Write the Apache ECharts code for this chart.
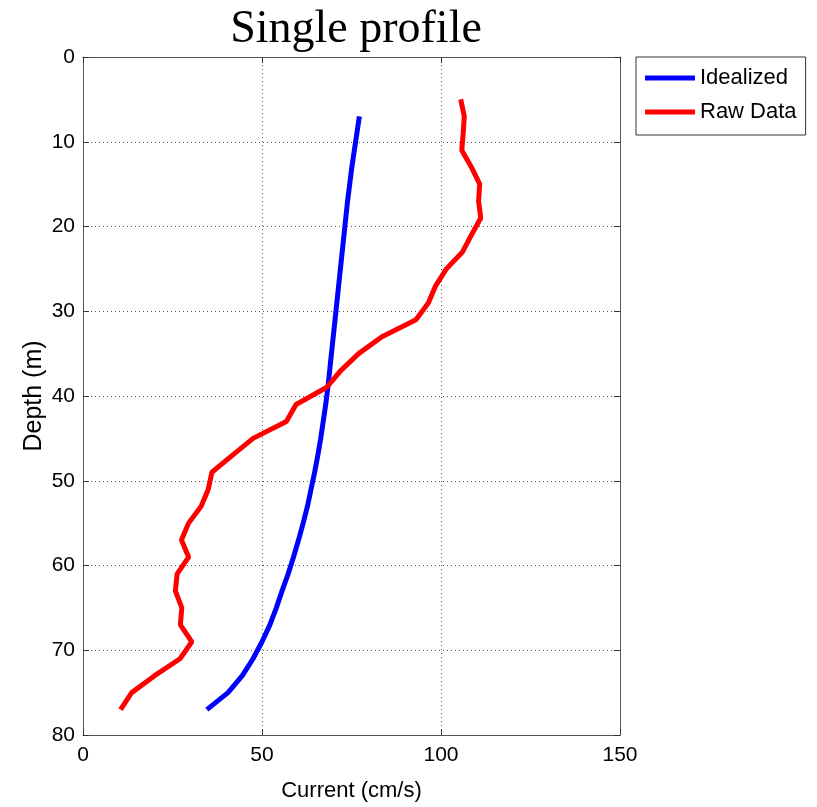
<!DOCTYPE html>
<html>
<head>
<meta charset="utf-8">
<script src="https://cdn.jsdelivr.net/npm/echarts@6/dist/echarts.min.js"></script>
<style>html,body{margin:0;padding:0;background:#fff;}#c{width:817px;height:807px;}</style>
</head>
<body>
<div id="c"></div>
<script>
const titleText = 'Single profile';
const xTicks = [0, 50, 100, 150];
const yTicks = [0, 10, 20, 30, 40, 50, 60, 70, 80];

const rawDepth = [5,7,9,11,13,15,17,19,21,23,25,27,29,31,33,35,37,39,41,43,45,47,49,51,53,55,57,59,61,63,65,67,69,71,73,75,77];
const rawCurrent = [105.5,106.5,106.2,105.8,108.5,110.8,110.5,111.1,108.5,106,101.5,98.5,96.5,93,83.5,77,72,68,59.5,56.8,47.5,41.7,36,35,33,29.5,27.5,29.5,26.3,25.8,27.6,27.2,30.4,27.1,20,13.6,10.5];

const idealDepth = [7,9,11,13,15,17,19,21,23,25,27,29,31,33,35,37,39,41,43,45,47,49,51,53,55,57,59,61,63,65,67,69,71,73,75,77];
const idealCurrent = [77.2,76.5,75.8,75.1,74.5,73.9,73.4,72.9,72.4,71.9,71.4,70.9,70.4,69.9,69.4,68.9,68.4,67.8,67.1,66.4,65.6,64.7,63.7,62.7,61.5,60.2,58.8,57.3,55.6,54.0,52.2,50.0,47.5,44.5,40.5,34.6];

const chart = echarts.init(document.getElementById('c'), null, {renderer: 'canvas'});
const sans = 'Liberation Sans';
const axisCommon = {
  axisLine: {show: true, onZero: false, lineStyle: {color: '#555', width: 1}},
  axisTick: {show: true, inside: true, length: 6, lineStyle: {color: '#333'}},
};
chart.setOption({
  animation: false,
  backgroundColor: '#fff',
  title: {
    text: titleText, left: 351, top: 2, textAlign: 'center',
    textStyle: {fontFamily: 'Liberation Serif', fontSize: 46, fontWeight: 'normal', color: '#000'}
  },
  legend: {
    orient: 'vertical', left: 636, top: 57,
    padding: [10, 9, 12, 9], itemGap: 12, itemWidth: 50, itemHeight: 5,
    icon: 'rect',
    borderColor: '#333', borderWidth: 1,
    textStyle: {fontFamily: sans, fontSize: 22, lineHeight: 22, color: '#000'},
    data: [{name: 'Idealized', icon: 'rect'}, {name: 'Raw Data', icon: 'rect'}]
  },
  grid: {left: 83, top: 57, width: 537, height: 678, show: false},
  xAxis: [{
    type: 'value', min: xTicks[0], max: xTicks[xTicks.length-1], interval: 50,
    position: 'bottom',
    ...axisCommon,
    axisLabel: {fontFamily: sans, fontSize: 21, color: '#000', margin: 10},
    splitLine: {show: true, lineStyle: {type: [1, 3], color: '#555', width: 1}},
    name: 'Current (cm/s)', nameLocation: 'middle', nameGap: 45, nameMoveOverlap: false,
    nameTextStyle: {fontFamily: sans, fontSize: 22, color: '#000'}
  }, {
    type: 'value', min: 0, max: 150, interval: 50, position: 'top',
    ...axisCommon, axisLabel: {show: false}, splitLine: {show: false}
  }],
  yAxis: [{
    type: 'value', inverse: true, min: yTicks[0], max: yTicks[yTicks.length-1], interval: 10,
    position: 'left',
    ...axisCommon,
    axisLabel: {fontFamily: sans, fontSize: 21, color: '#000', margin: 8},
    splitLine: {show: true, lineStyle: {type: [1, 3], color: '#555', width: 1}},
    name: 'Depth (m)', nameLocation: 'middle', nameGap: 36, nameMoveOverlap: false,
    nameTextStyle: {fontFamily: sans, fontSize: 25, color: '#000'}
  }, {
    type: 'value', inverse: true, min: 0, max: 80, interval: 10, position: 'right',
    ...axisCommon, axisLabel: {show: false}, splitLine: {show: false}
  }],
  series: [{
    name: 'Idealized', type: 'line', symbol: 'none', smooth: false,
    lineStyle: {color: '#0000ff', width: 5}, itemStyle: {color: '#0000ff'},
    data: idealDepth.map((d, i) => [idealCurrent[i], d])
  }, {
    name: 'Raw Data', type: 'line', symbol: 'none',
    lineStyle: {color: '#ff0000', width: 5}, itemStyle: {color: '#ff0000'},
    data: rawDepth.map((d, i) => [rawCurrent[i], d])
  }]
});
</script>
</body>
</html>
